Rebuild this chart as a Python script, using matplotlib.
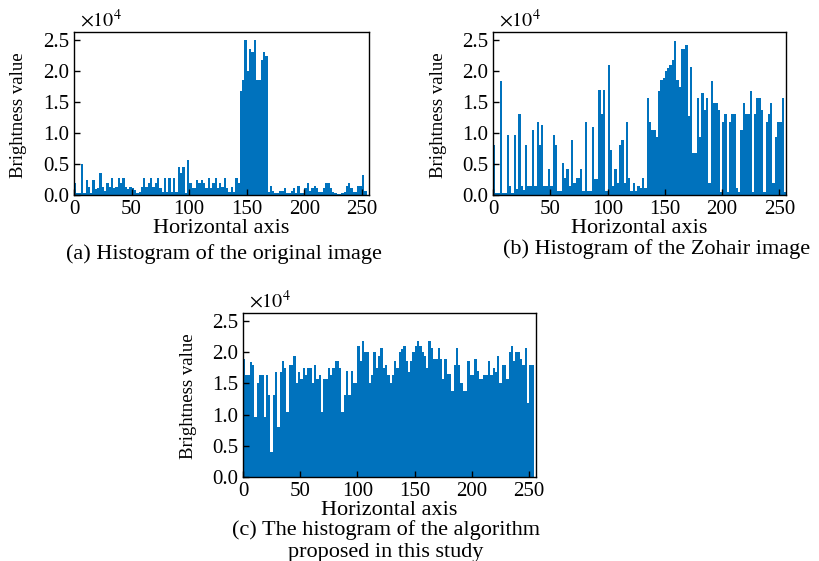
import numpy as np
import matplotlib
matplotlib.use("Agg")
import matplotlib.pyplot as plt
from matplotlib.ticker import FuncFormatter

plt.rcParams['font.family'] = ['Liberation Serif', 'DejaVu Serif']
plt.rcParams['mathtext.fontset'] = 'stix'

# bar heights, in units of 10^4, 128 bins of width 2 over 0..256
counts_a = [0.2, 0.04, 0.04, 0.5, 0.04, 0.25, 0.13, 0.04, 0.25, 0.09,
            0.12, 0.35, 0.13, 0.07, 0.2, 0.13, 0.27, 0.11, 0.13, 0.27,
            0.2, 0.27, 0.13, 0.09, 0.13, 0.11, 0.08, 0.03, 0.05, 0.13,
            0.27, 0.13, 0.2, 0.27, 0.13, 0.2, 0.27, 0.11, 0.05, 0.27,
            0.05, 0.27, 0.05, 0.27, 0.05, 0.45, 0.35, 0.45, 0.04, 0.56,
            0.19, 0.11, 0.11, 0.24, 0.2, 0.24, 0.2, 0.11, 0.27, 0.11,
            0.19, 0.27, 0.11, 0.19, 0.13, 0.27, 0.11, 0.05, 0.13, 0.05,
            0.27, 0.2, 1.68, 1.86, 2.5, 2.0, 2.35, 2.31, 2.5, 1.86,
            1.86, 2.18, 2.3, 2.24, 0.05, 0.14, 0.07, 0.04, 0.04, 0.07,
            0.07, 0.11, 0.04, 0.04, 0.07, 0.11, 0.04, 0.14, 0.04, 0.04,
            0.11, 0.2, 0.07, 0.11, 0.14, 0.11, 0.05, 0.05, 0.11, 0.19,
            0.2, 0.11, 0.05, 0.03, 0.02, 0.02, 0.03, 0.05, 0.14, 0.19,
            0.11, 0.05, 0.05, 0.14, 0.14, 0.32, 0.06, 0.0]

counts_b = [0.8, 0.04, 0.04, 1.84, 0.04, 0.04, 0.97, 0.14, 0.04, 0.97,
            0.1, 1.3, 0.14, 0.08, 0.8, 0.14, 0.14, 1.05, 0.14, 1.18,
            0.8, 1.13, 0.14, 0.14, 0.42, 0.14, 0.97, 0.8, 0.07, 0.07,
            0.52, 0.28, 0.42, 0.14, 0.89, 0.2, 0.28, 0.28, 0.42, 0.07,
            1.18, 0.07, 0.07, 1.1, 0.26, 0.26, 1.7, 1.3, 1.7, 0.07,
            2.1, 0.72, 0.14, 0.42, 0.2, 0.8, 0.88, 0.2, 1.18, 0.28,
            0.07, 0.2, 0.07, 0.14, 0.11, 0.28, 0.11, 1.56, 1.17, 1.05,
            1.05, 0.94, 1.68, 1.85, 1.88, 2.0, 2.05, 2.1, 2.17, 2.48,
            1.85, 1.74, 2.35, 2.35, 2.42, 1.27, 2.07, 0.67, 0.67, 1.56,
            0.94, 1.64, 1.37, 1.56, 0.2, 1.84, 1.49, 1.49, 1.37, 0.05,
            1.17, 1.3, 0.05, 1.17, 1.3, 1.3, 0.11, 0.05, 1.05, 1.49,
            1.3, 1.3, 1.68, 0.05, 1.3, 1.56, 1.56, 1.37, 0.05, 1.17,
            1.3, 1.49, 0.19, 0.94, 1.17, 1.17, 1.56, 0.05]

counts_c = [1.9, 1.64, 1.64, 1.84, 1.8, 0.97, 1.5, 1.64, 1.64, 0.97,
            1.64, 1.31, 0.4, 1.31, 1.68, 0.8, 1.68, 1.86, 1.75, 1.05,
            1.8, 1.8, 1.94, 1.5, 1.68, 1.57, 1.75, 1.64, 1.75, 1.75,
            1.5, 1.8, 1.57, 1.64, 1.05, 1.57, 1.57, 1.75, 1.64, 1.75,
            1.86, 1.86, 1.75, 1.05, 1.31, 1.7, 1.31, 1.7, 1.5, 1.5,
            2.1, 1.86, 2.18, 2.0, 2.0, 1.5, 1.64, 2.0, 1.75, 1.94,
            2.07, 1.75, 1.8, 1.64, 1.5, 1.64, 1.86, 1.75, 2.0, 2.05,
            2.1, 1.86, 1.68, 1.86, 2.0, 2.1, 2.18, 2.1, 2.0, 1.94,
            1.75, 2.18, 2.07, 1.9, 1.9, 2.07, 1.9, 1.57, 1.9, 1.65,
            1.65, 1.38, 1.8, 2.07, 1.8, 1.5, 1.38, 1.38, 1.86, 1.64,
            1.64, 1.9, 1.7, 1.57, 1.57, 1.64, 1.64, 1.86, 1.64, 1.75,
            1.68, 1.94, 1.5, 1.8, 1.8, 1.57, 2.0, 2.1, 1.86, 2.0,
            2.0, 1.9, 1.8, 2.07, 1.19, 1.8, 1.8, 0.0]

bin_edges = np.arange(0, 256, 2)
xticks = [0, 50, 100, 150, 200, 250]
yticks = [0.0, 0.5, 1.0, 1.5, 2.0, 2.5]

captions = ["(a) Histogram of the original image",
            "(b) Histogram of the Zohair image"]

blue = '#0072BD'

fig = plt.figure(figsize=(8.19, 5.61), dpi=100)
ax_a = fig.add_axes([0.0904, 0.6524, 0.360, 0.2906])
ax_b = fig.add_axes([0.602, 0.6524, 0.358, 0.2906])
ax_c = fig.add_axes([0.2967, 0.1497, 0.3578, 0.2923])

for ax, counts in [(ax_a, counts_a), (ax_b, counts_b), (ax_c, counts_c)]:
    ax.bar(bin_edges, counts, width=2, align='edge', color=blue, linewidth=0)
    ax.set_xlim(0, 256)
    ax.set_ylim(0, 2.63)
    ax.set_xticks(xticks)
    ax.set_yticks(yticks)
    ax.yaxis.set_major_formatter(FuncFormatter(lambda v, p: f'{v:.1f}'))
    ax.tick_params(direction='in', length=4, width=1, labelsize=15, pad=3.5)
    for s in ax.spines.values():
        s.set_linewidth(1.0)
        s.set_color('black')
    ax.set_xlabel('Horizontal axis', fontsize=16)
    ax.set_ylabel('Brightness value', fontsize=13.5)
    ax.xaxis.set_label_coords(0.5, -0.145)
    ax.yaxis.set_label_coords(-0.158, 0.49)
    ax.text(0.02, 1.0, r'$\times 10^4$', transform=ax.transAxes,
            fontsize=14.5, ha='left', va='bottom')

fig.text(0.2735, 0.547, captions[0], fontsize=16, ha='center', va='center')
fig.text(0.802, 0.556, captions[1], fontsize=16, ha='center', va='center')
fig.text(0.471, 0.055, "(c) The histogram of the algorithm", fontsize=16,
         ha='center', va='center')
fig.text(0.471, 0.0143, "proposed in this study", fontsize=16,
         ha='center', va='center')

fig.savefig('out.png', dpi=100)
